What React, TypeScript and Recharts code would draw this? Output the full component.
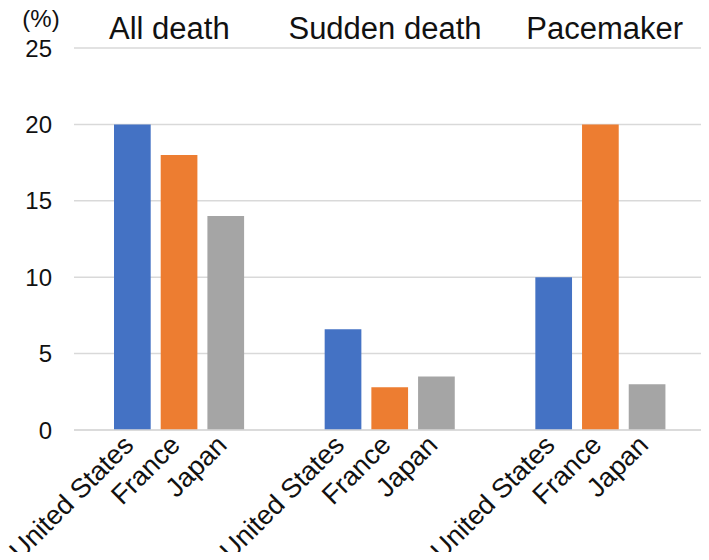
import { Bar, BarChart, CartesianGrid, LabelList, XAxis, YAxis } from "recharts";

const groups = ["All death", "Sudden death", "Pacemaker"];
const unitedStates = [20, 6.6, 10];
const france = [18, 2.8, 20];
const japan = [14, 3.5, 3];
const yTicks = [0, 5, 10, 15, 20, 25];

const rows = groups.map((g, i) => ({
  group: g,
  "United States": unitedStates[i],
  France: france[i],
  Japan: japan[i],
}));

const series = [
  { key: "United States", color: "#4472C4" },
  { key: "France", color: "#ED7D31" },
  { key: "Japan", color: "#A5A5A5" },
];

// the group titles were nudged by hand in the original, not quite centred
const titleShift = [-10, -5, 4];

function GroupTitle(props: any) {
  const { x, y, payload, index } = props;
  return (
    <text x={x + (titleShift[index] ?? 0)} y={y} textAnchor="middle" fontSize={31} fill="#111">
      {payload.value}
    </text>
  );
}

// country name under each bar, rotated like Excel's category labels
function countryLabel(name: string) {
  return (props: any) => {
    const { x, y, width, height } = props;
    const cx = Number(x) + Number(width) / 2 - 4;
    const cy = Number(y) + Number(height) + 10;
    return (
      <text
        x={cx}
        y={cy}
        dy="0.35em"
        textAnchor="end"
        fontSize={27}
        fill="#111"
        transform={`rotate(-45 ${cx} ${cy})`}
      >
        {name}
      </text>
    );
  };
}

export default function App() {
  return (
    <div style={{ margin: -8, fontFamily: "'Liberation Sans', Arial, sans-serif" }}>
      <BarChart
        width={709}
        height={560}
        data={rows}
        margin={{ top: 0, right: 3, left: 0, bottom: 0 }}
        barSize={36.7}
        barGap={10}
      >
        <CartesianGrid vertical={false} stroke="#D9D9D9" strokeWidth={1.5} />
        <XAxis xAxisId="top" orientation="top" dataKey="group" height={48}
          axisLine={false} tickLine={false} tickSize={0} tickMargin={9}
          tick={<GroupTitle />} />
        <XAxis xAxisId="bottom" dataKey="group" height={130}
          axisLine={{ stroke: "#D9D9D9", strokeWidth: 1.5 }} tickLine={false} tick={false} />
        <YAxis
          domain={[0, 25]}
          ticks={yTicks}
          width={74}
          axisLine={false}
          tickLine={false}
          tickSize={0}
          tickMargin={22}
          tick={{ fontSize: 24, fill: "#111" }}
          label={{ value: "(%)", position: "top", offset: 21, dx: 4, fontSize: 24, fill: "#111" }}
        />
        {series.map((s) => (
          <Bar key={s.key} xAxisId="bottom" dataKey={s.key} fill={s.color} isAnimationActive={false}>
            <LabelList dataKey={s.key} content={countryLabel(s.key)} />
          </Bar>
        ))}
      </BarChart>
    </div>
  );
}
